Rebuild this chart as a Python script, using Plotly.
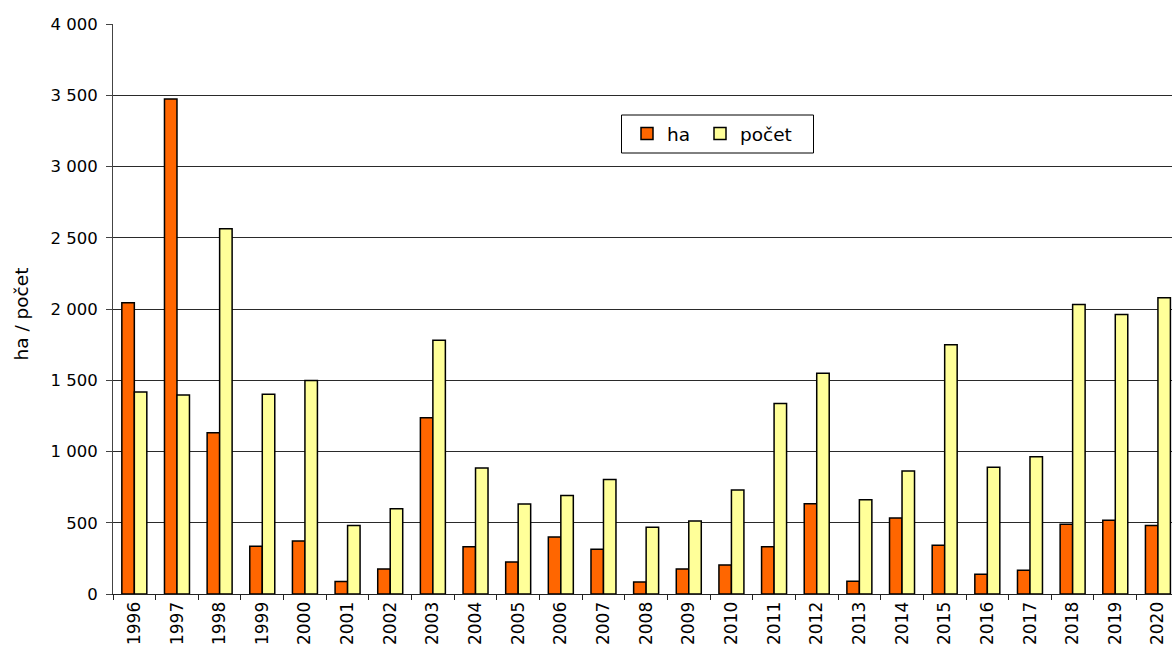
import plotly.graph_objects as go

years = [str(y) for y in range(1996, 2021)]
ha = [2043, 3474, 1131, 335, 372, 87, 176, 1236, 332, 225, 400, 314, 84, 176, 204,
      332, 634, 89, 534, 342, 138, 166, 489, 517, 480]
pocet = [1418, 1397, 2563, 1402, 1498, 480, 599, 1781, 885, 632, 691, 803, 468, 513, 730,
         1337, 1550, 662, 864, 1749, 889, 964, 2032, 1962, 2079]
y_ticks = [0, 500, 1000, 1500, 2000, 2500, 3000, 3500, 4000]
y_tick_labels = ["0", "500", "1 000", "1 500", "2 000", "2 500", "3 000", "3 500", "4 000"]

WIDE = "DejaVu Sans, Verdana, sans-serif"

fig = go.Figure()
fig.add_trace(go.Bar(x=years, y=ha, name="ha", legend="legend2", showlegend=True,
                     marker=dict(color="#FF6600", line=dict(color="#000000", width=1.5))))
fig.add_trace(go.Bar(x=years, y=pocet, name="počet", legend="legend3", showlegend=True,
                     marker=dict(color="#FFFF99", line=dict(color="#000000", width=1.5))))

leg_common = dict(orientation="h", yanchor="middle", xanchor="left", y=(594 - 134) / 570,
                  borderwidth=0, bgcolor="rgba(0,0,0,0)", visible=True,
                  font=dict(family=WIDE, size=18.5, color="black"), itemwidth=30)

fig.update_layout(
    width=1172, height=646,
    margin=dict(l=113, r=0, t=24, b=52, autoexpand=False),
    paper_bgcolor="white", plot_bgcolor="white",
    barmode="group", bargap=0.414, bargroupgap=0,
    font=dict(family=WIDE, size=16, color="black"),
    showlegend=True,
    legend2=dict(x=(627 - 113) / 1059, **leg_common),
    legend3=dict(x=(700 - 113) / 1059, **leg_common),
    xaxis=dict(type="category", range=[-0.5, 24.33], showgrid=False,
               showline=True, linecolor="#222222", linewidth=1,
               ticks="outside", ticklen=5, tickcolor="#222222", tickson="boundaries",
               tickangle=-90, tickfont=dict(family=WIDE, size=17), automargin=False),
    yaxis=dict(range=[0, 4000], tickvals=y_ticks, ticktext=y_tick_labels,
               showgrid=True, gridcolor="#2a2a2a", gridwidth=1,
               showline=True, linecolor="#444444", linewidth=1,
               ticks="outside", ticklen=6, tickcolor="#444444", ticklabelstandoff=5,
               tickfont=dict(family=WIDE, size=16.5), zeroline=False, automargin=False),
    shapes=[dict(type="rect", xref="paper", yref="paper",
                 x0=(621.5 - 113) / 1059, x1=(813.5 - 113) / 1059,
                 y0=(594 - 153) / 570, y1=(594 - 115) / 570,
                 line=dict(color="black", width=1), fillcolor="white", layer="below")],
    annotations=[dict(text="ha / počet", xref="paper", yref="paper",
                      x=(20.5 - 113) / 1059, y=(594 - 314) / 570,
                      xanchor="center", yanchor="middle", textangle=-90, showarrow=False,
                      font=dict(family=WIDE, size=18.5, color="black"))],
)

fig.write_html("out.html")
